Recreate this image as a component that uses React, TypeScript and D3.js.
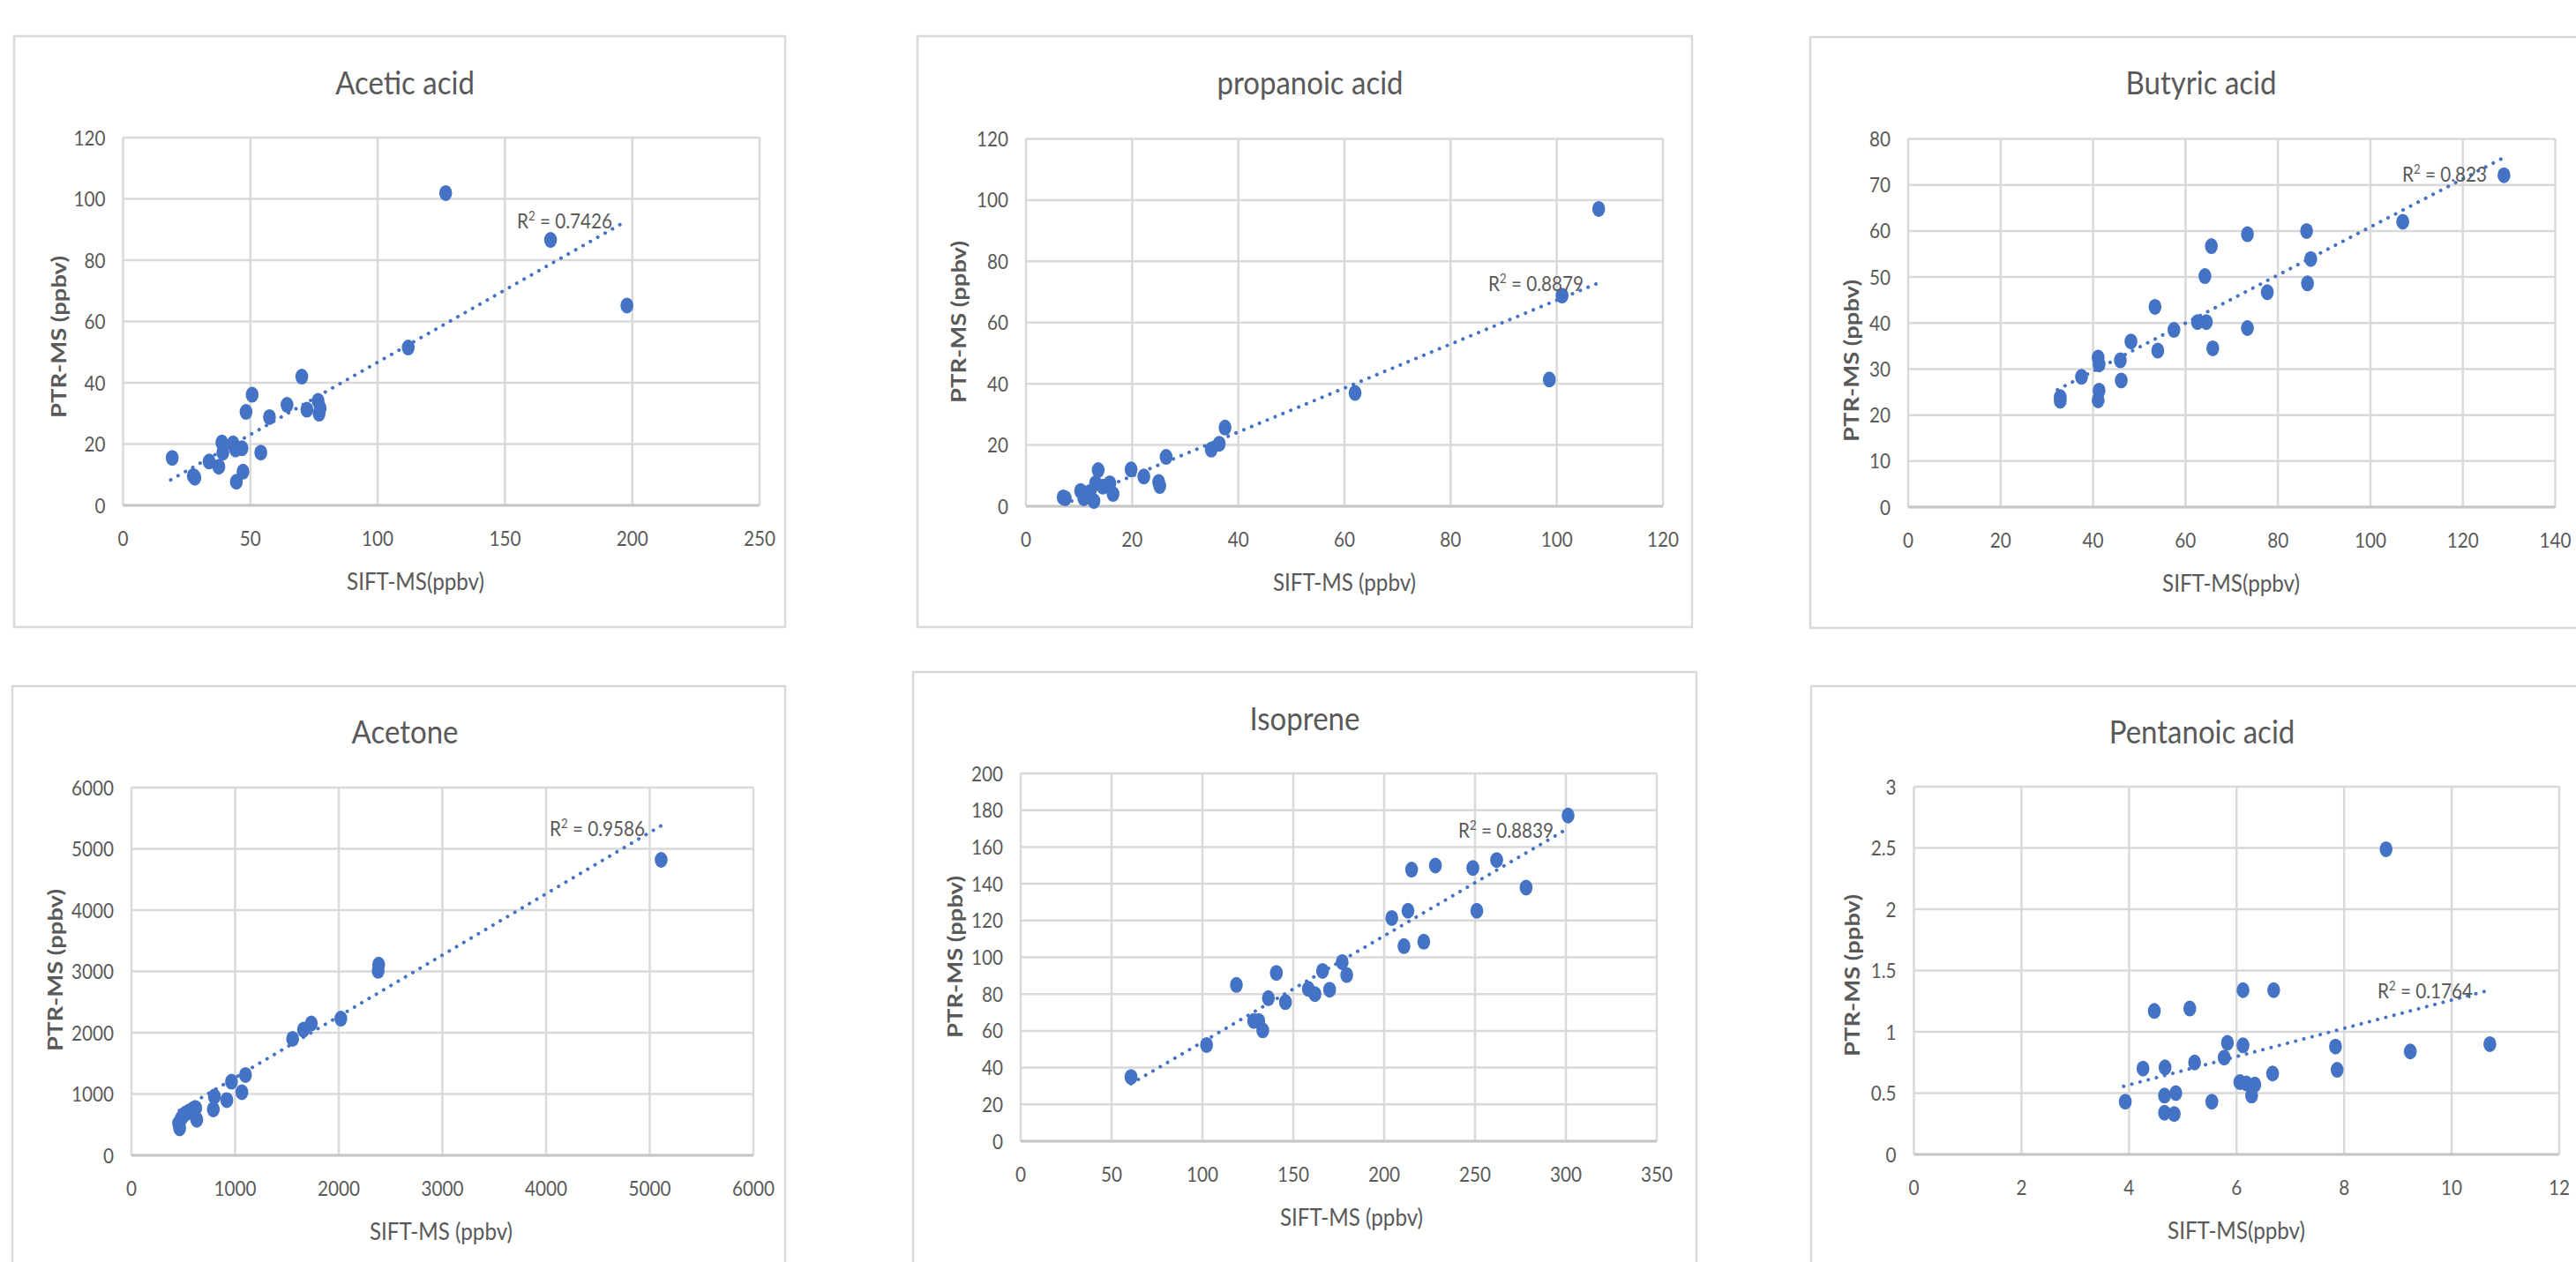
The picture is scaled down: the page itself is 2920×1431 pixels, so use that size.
import React from "react";
import * as d3 from "d3";

// ---------- DATA ----------
const aceticX = [19.3, 27.6, 28.2, 33.8, 37.6, 38.8, 39.2, 43.2, 44.2, 46.7, 44.5, 47.1, 48.3, 50.7, 54.1, 57.5, 64.4, 70.2, 72.2, 76.6, 77.0, 77.4, 112.0, 126.7, 167.9, 197.9];
const aceticY = [15.5, 9.6, 9.0, 14.3, 12.6, 20.5, 17.2, 20.2, 18.2, 18.6, 7.7, 11.0, 30.5, 36.1, 17.2, 28.8, 32.8, 42.0, 31.2, 34.1, 29.9, 31.7, 51.5, 101.9, 86.6, 65.2];
const aceticTrend = [18.7, 8.3, 197.3, 92.6];

const propX = [7.0, 7.4, 10.3, 10.9, 11.7, 12.0, 12.8, 13.1, 13.6, 14.5, 15.8, 16.4, 19.8, 22.2, 25.0, 25.2, 26.4, 34.9, 36.4, 37.5, 62.0, 98.6, 101.0, 107.9];
const propY = [2.9, 2.6, 5.0, 2.6, 3.3, 4.6, 1.7, 7.5, 11.8, 6.4, 7.5, 4.0, 12.0, 9.7, 7.9, 6.6, 16.1, 18.5, 20.4, 25.7, 37.0, 41.4, 68.8, 97.1];
const propTrend = [8.6, 1.7, 108.2, 73.2];

const butX = [32.9, 32.9, 37.5, 41.1, 41.3, 41.3, 41.1, 45.9, 46.1, 48.2, 53.4, 54.0, 57.5, 62.6, 64.5, 64.2, 65.6, 65.9, 73.4, 73.4, 77.7, 86.2, 86.4, 87.1, 107.0, 128.9];
const butY = [23.9, 23.1, 28.3, 32.5, 31.0, 25.3, 23.2, 31.9, 27.5, 36.0, 43.5, 34.0, 38.5, 40.2, 40.2, 50.2, 56.7, 34.5, 59.3, 38.9, 46.7, 60.0, 48.6, 53.9, 62.0, 72.1];
const butTrend = [32.3, 25.5, 128.4, 75.7];

const acetoneX = [455, 465, 480, 500, 520, 545, 575, 600, 620, 630, 790, 800, 920, 965, 1065, 1100, 1555, 1660, 1735, 2020, 2380, 2385, 5110];
const acetoneY = [520, 440, 600, 650, 680, 700, 730, 760, 770, 580, 750, 960, 900, 1200, 1030, 1310, 1900, 2050, 2150, 2230, 3010, 3110, 4820];
const acetoneTrend = [464, 730, 5111, 5378];

const isoX = [60.7, 102.3, 118.7, 128.2, 131.0, 133.2, 136.3, 140.7, 145.7, 158.3, 161.9, 166.1, 170.0, 176.9, 179.4, 204.2, 210.9, 213.1, 215.1, 221.8, 228.2, 248.8, 251.0, 261.9, 278.1, 301.2];
const isoY = [34.9, 52.3, 85.0, 65.4, 65.4, 60.3, 77.8, 91.5, 75.6, 82.8, 80.0, 92.6, 82.4, 97.4, 90.4, 121.4, 106.1, 125.3, 147.7, 108.5, 149.9, 148.6, 125.3, 152.9, 137.9, 177.1];
const isoTrend = [60.7, 31.2, 299.8, 169.3];

const pentX = [3.93, 4.26, 4.47, 4.66, 4.66, 4.67, 4.84, 4.87, 5.13, 5.22, 5.54, 5.77, 5.83, 6.06, 6.12, 6.12, 6.18, 6.28, 6.34, 6.67, 6.69, 7.84, 7.87, 8.78, 9.23, 10.71];
const pentY = [0.43, 0.70, 1.17, 0.48, 0.34, 0.71, 0.33, 0.50, 1.19, 0.75, 0.43, 0.79, 0.91, 0.59, 1.34, 0.89, 0.58, 0.48, 0.57, 0.66, 1.34, 0.88, 0.69, 2.49, 0.84, 0.90];
const pentTrend = [3.9, 0.556, 10.7, 1.34];

const titles = ["Acetic acid", "propanoic acid", "Butyric acid", "Acetone", "Isoprene", "Pentanoic acid"];
const xTitles = ["SIFT-MS(ppbv)", "SIFT-MS (ppbv)", "SIFT-MS(ppbv)", "SIFT-MS (ppbv)", "SIFT-MS (ppbv)", "SIFT-MS(ppbv)"];
const yTitle = "PTR-MS (ppbv)";
const r2Labels = ["0.7426", "0.8879", "0.823", "0.9586", "0.8839", "0.1764"];

const xTicks = [
  [0, 50, 100, 150, 200, 250],
  [0, 20, 40, 60, 80, 100, 120],
  [0, 20, 40, 60, 80, 100, 120, 140],
  [0, 1000, 2000, 3000, 4000, 5000, 6000],
  [0, 50, 100, 150, 200, 250, 300, 350],
  [0, 2, 4, 6, 8, 10, 12],
];
const yTicks = [
  [0, 20, 40, 60, 80, 100, 120],
  [0, 20, 40, 60, 80, 100, 120],
  [0, 10, 20, 30, 40, 50, 60, 70, 80],
  [0, 1000, 2000, 3000, 4000, 5000, 6000],
  [0, 20, 40, 60, 80, 100, 120, 140, 160, 180, 200],
  [0, 0.5, 1, 1.5, 2, 2.5, 3],
];

const seriesX = [aceticX, propX, butX, acetoneX, isoX, pentX];
const seriesY = [aceticY, propY, butY, acetoneY, isoY, pentY];
const trends = [aceticTrend, propTrend, butTrend, acetoneTrend, isoTrend, pentTrend];

// ---------- LAYOUT ----------
const layouts = [
  { frame: [16, 41, 874, 670], plot: [139.5, 156, 861, 573], titleX: 459, titleY: 106.7, yt: [67, 382], xtX: 471, r2: [586, 259] },
  { frame: [1040, 41, 878, 670], plot: [1163, 157.5, 1885, 574], titleX: 1485, titleY: 106.5, yt: [1087, 365], xtX: 1524, r2: [1687, 330] },
  { frame: [2052, 42, 900, 670], plot: [2163, 157.5, 2896.5, 575], titleX: 2495, titleY: 106.5, yt: [2099, 409], xtX: 2529, r2: [2723, 206] },
  { frame: [14, 778, 876, 700], plot: [149, 893, 854, 1310], titleX: 459, titleY: 842.5, yt: [63, 1100], xtX: 500, r2: [623, 948] },
  { frame: [1035, 762, 888, 720], plot: [1157, 877, 1878, 1294], titleX: 1479, titleY: 828, yt: [1083, 1085], xtX: 1532, r2: [1653, 950] },
  { frame: [2053, 778, 900, 700], plot: [2169.5, 892, 2901, 1309], titleX: 2496, titleY: 842.5, yt: [2100, 1106], xtX: 2535, r2: [2695, 1132] },
];

const TEXT = "#595959";
const GRID = "#d9d9d9";
const BLUE = "#4472C4";
const FONT = "Lato, 'Open Sans', sans-serif";
const SX = 0.88;

function Panel({ i }: { i: number }) {
  const L = layouts[i];
  const [pl, pt, pr, pb] = L.plot;
  const xt = xTicks[i];
  const yt = yTicks[i];
  const x = d3.scaleLinear().domain([xt[0], xt[xt.length - 1]]).range([pl, pr]);
  const y = d3.scaleLinear().domain([yt[0], yt[yt.length - 1]]).range([pb, pt]);
  const xs = seriesX[i];
  const ys = seriesY[i];
  const tr = trends[i];
  const fmt = (v: number) => String(v);
  return (
    <g>
      <rect x={L.frame[0]} y={L.frame[1]} width={L.frame[2]} height={L.frame[3]} fill="#fff" stroke={GRID} strokeWidth={2.5} />
      <text transform={`translate(${L.titleX},${L.titleY}) scale(${SX},1)`} textAnchor="middle" fontFamily={FONT} fontSize={37.5} fill={TEXT}>
        {titles[i]}
      </text>
      {yt.map((v) => (
        <line key={"gy" + v} x1={pl} x2={pr} y1={y(v)} y2={y(v)} stroke={GRID} strokeWidth={2.5} />
      ))}
      {xt.map((v) => (
        <line key={"gx" + v} x1={x(v)} x2={x(v)} y1={pt} y2={pb} stroke={GRID} strokeWidth={2.5} />
      ))}
      <line x1={pl} x2={pr} y1={pb} y2={pb} stroke="#c6c6c6" strokeWidth={3} />
      {yt.map((v) => (
        <text key={"ty" + v} transform={`translate(${pl - 20},${y(v) + 8.5}) scale(${SX},1)`} textAnchor="end" fontFamily={FONT} fontSize={23.5} fill={TEXT}>
          {fmt(v)}
        </text>
      ))}
      {xt.map((v) => (
        <text key={"tx" + v} transform={`translate(${x(v)},${pb + 46}) scale(${SX},1)`} textAnchor="middle" fontFamily={FONT} fontSize={23.5} fill={TEXT}>
          {fmt(v)}
        </text>
      ))}
      <text transform={`translate(${L.xtX},${pb + 96}) scale(${SX},1)`} textAnchor="middle" fontFamily={FONT} fontSize={27.5} fill={TEXT}>
        {xTitles[i]}
      </text>
      <text
        transform={`translate(${L.yt[0] + 8},${L.yt[1]}) rotate(-90)`}
        textAnchor="middle"
        fontFamily={FONT}
        fontWeight="bold"
        fontSize={22}
        fill={TEXT}
        textLength={184}
        lengthAdjust="spacingAndGlyphs"
      >
        {yTitle}
      </text>
      {xs.map((v, k) => (
        <ellipse key={"p" + k} cx={x(v)} cy={y(ys[k])} rx={7.3} ry={9} fill={BLUE} />
      ))}
      <line
        x1={x(tr[0])}
        y1={y(tr[1])}
        x2={x(tr[2])}
        y2={y(tr[3])}
        stroke={BLUE}
        strokeWidth={4}
        strokeDasharray="0.1 9.5"
        strokeLinecap="round"
      />
      <text transform={`translate(${L.r2[0]},${L.r2[1]}) scale(${SX},1)`} fontFamily={FONT} fontSize={23.5} fill={TEXT}>
        <tspan>R</tspan>
        <tspan dy={-9} fontSize={15}>2</tspan>
        <tspan dy={9}>{" = " + r2Labels[i]}</tspan>
      </text>
    </g>
  );
}

export default function App() {
  return (
    <svg
      width={2920}
      height={1431}
      viewBox="0 0 2920 1431"
      style={{ position: "absolute", left: 0, top: 0, background: "#fff" }}
    >
      <rect x={0} y={0} width={2920} height={1431} fill="#fff" />
      {layouts.map((_, i) => (
        <Panel key={i} i={i} />
      ))}
    </svg>
  );
}
